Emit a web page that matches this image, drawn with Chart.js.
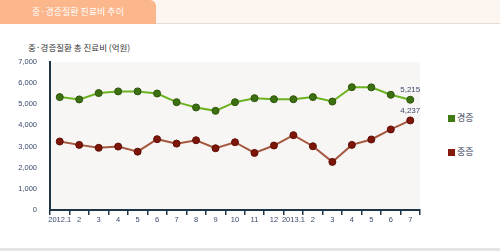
<!DOCTYPE html>
<html>
<head>
<meta charset="utf-8">
<script src="https://cdn.jsdelivr.net/npm/chart.js@4"></script>
<style>
  body { margin: 0; width: 500px; height: 251px; background: #fff; position: relative; overflow: hidden;
         font-family: "Noto Sans CJK KR", "Liberation Sans", sans-serif; }
  .strip { position: absolute; left: 0; top: 0; width: 500px; height: 23px; background: #fdf5f0; border-bottom: 1px solid #e6dcd6; }
  .tab { position: absolute; left: 0; top: 0; width: 156px; height: 24px; background: #fbb68c;
         border-top-right-radius: 6px; color: #fff; font-size: 9px; text-align: center; line-height: 23px; }
  .subtitle { position: absolute; left: 28px; top: 41px; font-size: 8.5px; color: #333; }
  .chart-box { position: absolute; left: 0; top: 50px; width: 440px; height: 200px; }
  .legend { position: absolute; left: 448px; font-size: 9px; color: #333a55; line-height: 9px; }
  .legend span { display: inline-block; width: 7px; height: 7px; margin-right: 2px; vertical-align: -1px; }
  .bottom { position: absolute; left: 0; top: 248px; width: 500px; height: 3px; background: #e4e4e4; }
</style>
</head>
<body>
<div class="strip"></div>
<div class="tab">중·경증질환 진료비 추이</div>
<div class="subtitle">중·경증질환 총 진료비 (억원)</div>
<div class="chart-box"><canvas id="chart"></canvas></div>
<div class="legend" style="top:113px"><span style="background:#3f7a12"></span>경증</div>
<div class="legend" style="top:147px"><span style="background:#861a0c"></span>중증</div>
<div class="bottom"></div>
<script>
// month labels, 2012.1 through 2013.7
const months = ['2012.1', '2', '3', '4', '5', '6', '7', '8', '9', '10', '11', '12',
  '2013.1', '2', '3', '4', '5', '6', '7']

// 경증 (mild) total cost, 억원
const mildValues = [5340, 5230, 5530, 5610, 5610, 5510, 5100, 4850, 4690, 5100,
  5290, 5240, 5240, 5340, 5130, 5810, 5800, 5450, 5215]

// 중증 (severe) total cost, 억원
const severeValues = [3240, 3080, 2940, 3000, 2760, 3350, 3140, 3300, 2920, 3205,
  2700, 3050, 3540, 3015, 2275, 3080, 3335, 3810, 4237]

const yTicks = [0, 1000, 2000, 3000, 4000, 5000, 6000, 7000]

// fill plot area with the light background
const plotBackground = {
  id: 'plotBackground',
  beforeDraw(chart) {
    const { ctx, chartArea } = chart
    ctx.save()
    ctx.fillStyle = '#f8f5f5'
    ctx.fillRect(chartArea.left, chartArea.top, chartArea.right - chartArea.left, chartArea.bottom - chartArea.top)
    ctx.restore()
  }
}

// value labels above the last point of each line
const lastLabels = {
  id: 'lastLabels',
  afterDatasetsDraw(chart) {
    const { ctx } = chart
    ctx.save()
    ctx.font = '8px "Liberation Sans", sans-serif'
    ctx.fillStyle = '#3b4a6b'
    ctx.textAlign = 'center'
    ctx.textBaseline = 'bottom'
    chart.data.datasets.forEach((ds, i) => {
      const meta = chart.getDatasetMeta(i)
      const last = meta.data[meta.data.length - 1]
      const value = ds.data[ds.data.length - 1]
      ctx.fillText(value.toLocaleString('en-US'), last.x, last.y - 6)
    })
    ctx.restore()
  }
}

const tickFont = { family: '"Liberation Sans", sans-serif', size: 7.5 }

new Chart(document.getElementById('chart'), {
  type: 'line',
  data: {
    labels: months,
    datasets: [
      {
        label: '경증',
        data: mildValues,
        borderColor: '#6bb41f',
        borderWidth: 2,
        backgroundColor: '#3d7010',
        pointBorderColor: '#2c560a',
        pointBorderWidth: 1,
        pointRadius: 3.5,
        tension: 0
      },
      {
        label: '중증',
        data: severeValues,
        borderColor: '#a4583e',
        borderWidth: 2,
        backgroundColor: '#7d1509',
        pointBorderColor: '#5e0f06',
        pointBorderWidth: 1,
        pointRadius: 3.5,
        tension: 0
      }
    ]
  },
  options: {
    responsive: true,
    maintainAspectRatio: false,
    animation: false,
    layout: { padding: { top: 12, right: 20, left: 0, bottom: 0 } },
    plugins: {
      legend: { display: false },
      tooltip: { enabled: false }
    },
    scales: {
      x: {
        offset: true,
        grid: { display: true, offset: true, drawOnChartArea: false, tickLength: 5, color: '#1d3547', lineWidth: 1.5 },
        border: { color: '#1d3547', width: 2 },
        ticks: { color: '#3b4a6b', font: tickFont, maxRotation: 0, autoSkip: false, padding: 0 },
        afterFit(scale) { scale.height = 40 }
      },
      y: {
        min: 0,
        max: 7000,
        afterBuildTicks(scale) { scale.ticks = yTicks.map(v => ({ value: v })) },
        grid: { display: false },
        border: { color: '#1d3547', width: 2 },
        ticks: { color: '#3b4a6b', font: tickFont, padding: 5 },
        afterFit(scale) { scale.width = 50 }
      }
    }
  },
  plugins: [plotBackground, lastLabels]
})
</script>
</body>
</html>
